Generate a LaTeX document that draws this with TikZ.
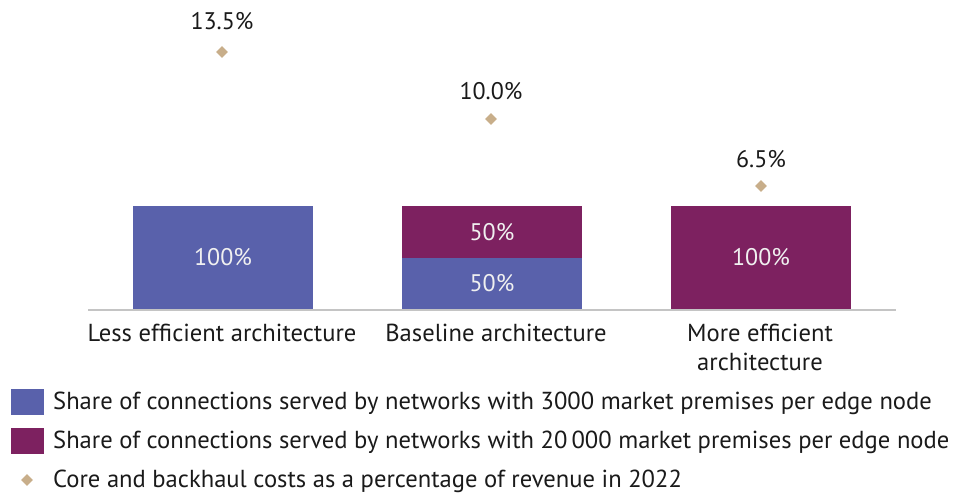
\documentclass[tikz,border=0pt]{standalone}
\usepackage{fontspec}
\setmainfont{PT Sans}
\usetikzlibrary{positioning, shapes.geometric}

\definecolor{edgeblue}{HTML}{5961AB}
\definecolor{edgeplum}{HTML}{7D2160}
\definecolor{costtan}{HTML}{C8AE8A}
\definecolor{axisgray}{HTML}{C4C4C4}
\definecolor{inkgray}{HTML}{1A1A1A}

\begin{document}
\begin{tikzpicture}[
  x=1pt, y=-1pt,
  every node/.style={font=\fontsize{24}{29}\selectfont, text=inkgray},
  bar/.style={rectangle, anchor=south, minimum width=180pt, inner sep=0pt, text=white!94!black},
  bluebar/.style={bar, fill=edgeblue},
  plumbar/.style={bar, fill=edgeplum},
  costmark/.style={diamond, fill=costtan, minimum size=12pt, inner sep=0pt},
  catlabel/.style={anchor=north, align=center, inner sep=0pt, font=\fontsize{24.6}{29}\selectfont},
  legbox/.style={rectangle, minimum width=33pt, minimum height=26pt, inner sep=0pt},
  legtext/.style={anchor=west, inner sep=0pt, font=\fontsize{24.6}{29}\selectfont}
]
\useasboundingbox (0,0) rectangle (962,494);

% bars
\node[bluebar, minimum height=103pt] (less) at (223,309) {100\%};
\node[bluebar, minimum height=51pt] (baselow) at (492,309) {50\%};
\node[plumbar, minimum height=52pt, above=-0.5pt of baselow] (basehigh) {50\%};
\node[plumbar, minimum height=103pt] (more) at (761,309) {100\%};

\draw[axisgray, line width=2pt] (88,310) -- (896,310);

% cost markers
\node[costmark] (mless) at (222,52) {};
\node[costmark] (mbase) at (491,119) {};
\node[costmark] (mmore) at (761,186) {};
\node at (222,21) (vless) {13.5\%};
\node at (491,91) (vbase) {10.0\%};
\node at (761,159) (vmore) {6.5\%};

% categories
\node[catlabel] (cless) at (222,324) {Less efficient architecture};
\node[catlabel] (cbase) at (496,324) {Baseline architecture};
\node[catlabel] (cmore) at (760,324) {More efficient\\architecture};

% legend
\node[legbox, fill=edgeblue] (kblue) at (27,402) {};
\node[legbox, fill=edgeplum] (kplum) at (27,441) {};
\node[costmark] (kcost) at (27,480) {};
\node[legtext] (tblue) at (53,403) {Share of connections served by networks with 3000 market premises per edge node};
\node[legtext] (tplum) at (53,442) {Share of connections served by networks with 20\,000 market premises per edge node};
\node[legtext] (tcost) at (53,481) {Core and backhaul costs as a percentage of revenue in 2022};

\end{tikzpicture}
\end{document}
